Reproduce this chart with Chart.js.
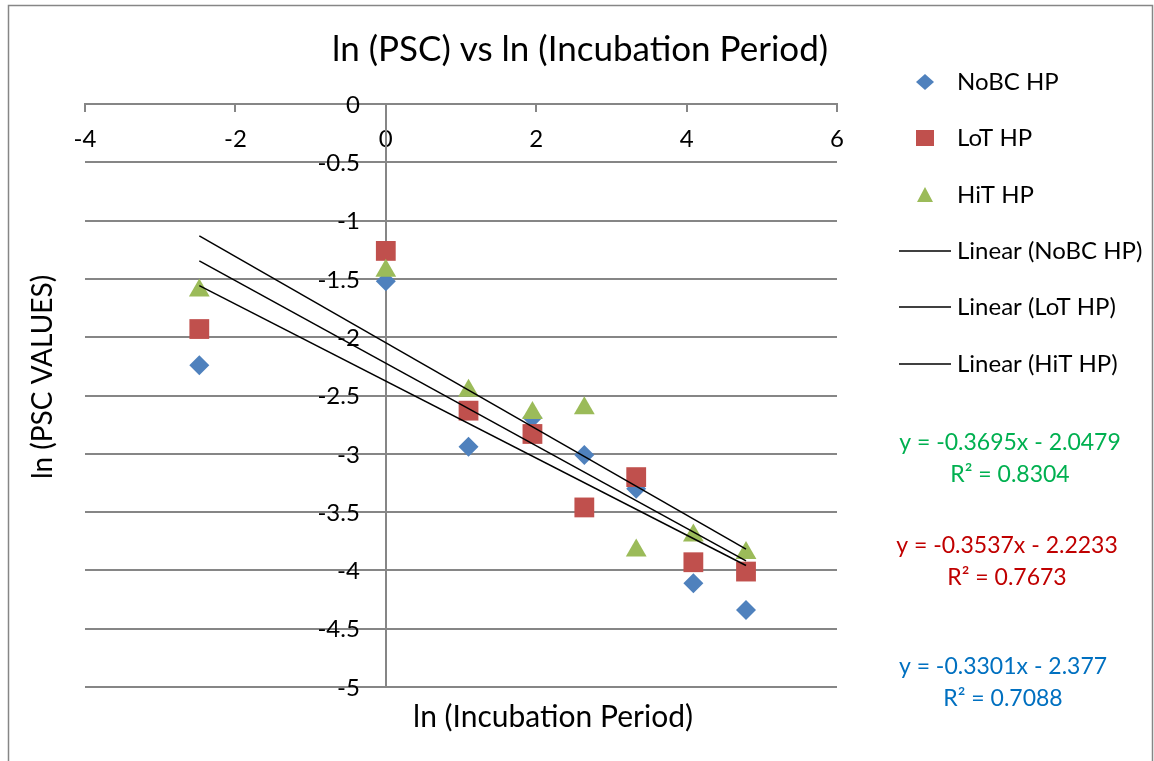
<!DOCTYPE html>
<html>
<head>
<meta charset="utf-8">
<script src="https://cdn.jsdelivr.net/npm/chart.js@4/dist/chart.umd.min.js"></script>
<style>
  html, body { margin:0; padding:0; background:#fff; }
  #wrap { width:1154px; height:761px; }
</style>
</head>
<body>
<div id="wrap"><canvas id="psc" width="1154" height="761"></canvas></div>
<script>
/* ===============================
   DATA
================================ */

const lnPeriod = [-2.48, 0, 1.10, 1.95, 2.64, 3.33, 4.09, 4.79];

const noBC = [-2.24, -1.52, -2.94, -2.69, -3.01, -3.30, -4.11, -4.34];
const loT  = [-1.93, -1.26, -2.63, -2.83, -3.46, -3.20, -3.93, -4.01];
const hiT  = [-1.60, -1.43, -2.46, -2.65, -2.61, -3.83, -3.70, -3.85];

const seriesNames = ["NoBC HP", "LoT HP", "HiT HP"];

// trendline coefficients as printed on the chart
const slopes     = [-0.3301, -0.3537, -0.3695];
const intercepts = [-2.377, -2.2233, -2.0479];
const rSquared   = ["0.7088", "0.7673", "0.8304"];

const xTicks = [-4, -2, 0, 2, 4, 6];

const FONT = "Lato, 'Open Sans', sans-serif";
const GRID = "#868686";


function points(ys){
  return lnPeriod.map((x,i)=>({x:x, y:ys[i]}));
}

function trend(k){
  const x0 = Math.min(...lnPeriod);
  const x1 = Math.max(...lnPeriod);
  return [
    {x:x0, y:slopes[k]*x0 + intercepts[k]},
    {x:x1, y:slopes[k]*x1 + intercepts[k]}
  ];
}

function eqText(k){
  const b = intercepts[k];
  return "y = " + slopes[k] + "x " + (b<0 ? "- " : "+ ") + Math.abs(b);
}


/* ===============================
   EXTRA DRAWING (titles, legend)
================================ */

const decor = {
  id:"decor",
  afterDraw(chart){
    const ctx = chart.ctx;
    ctx.save();

    // outer frame
    ctx.strokeStyle = GRID;
    ctx.lineWidth = 1.5;
    ctx.strokeRect(8.5, 5.5, 1144, 800);

    // y tick labels (left of the crossing axis)
    const ys = chart.scales.y;
    const axisX = chart.scales.x.getPixelForValue(0);
    ctx.fillStyle = "#000";
    ctx.font = "24px " + FONT;
    ctx.textAlign = "right";
    ctx.textBaseline = "middle";
    ys.ticks.forEach(t=>{
      ctx.fillText(String(+t.value.toFixed(1)), axisX - 26, ys.getPixelForValue(t.value) + 1);
    });

    ctx.textAlign = "center";
    ctx.font = "35px " + FONT;
    ctx.fillText("ln (PSC) vs ln (Incubation Period)", 580, 50);

    ctx.font = "30px " + FONT;
    ctx.fillText("ln (Incubation Period)", 553, 717);

    ctx.save();
    ctx.translate(43, 377);
    ctx.rotate(-Math.PI/2);
    ctx.font = "28px " + FONT;
    ctx.fillText("ln (PSC VALUES)", 0, 0);
    ctx.restore();

    // legend
    const ds = chart.data.datasets;
    ctx.font = "24px " + FONT;
    ctx.textAlign = "left";
    const rows = [82, 138, 195, 251, 307, 364];
    ds.slice(0,3).forEach((d,i)=>{
      drawMarker(ctx, d.pointStyle, 925, rows[i], 9, d.backgroundColor);
      ctx.fillStyle = "#000";
      ctx.fillText(d.label, 957, rows[i]);
    });
    ds.slice(3).forEach((d,i)=>{
      const y = rows[i+3];
      ctx.strokeStyle = "#000";
      ctx.lineWidth = 1.5;
      ctx.beginPath();
      ctx.moveTo(899, y);
      ctx.lineTo(951, y);
      ctx.stroke();
      ctx.fillStyle = "#000";
      ctx.fillText(d.label, 957, y);
    });

    // trendline equations
    const eqColors = ["#0070C0", "#C00000", "#00B050"];
    const eqPos = [[1003, 667], [1007, 546], [1010, 443]];
    ctx.textAlign = "center";
    ctx.font = "23px " + FONT;
    for (let k=0; k<3; k++){
      ctx.fillStyle = eqColors[k];
      ctx.fillText(eqText(k), eqPos[k][0], eqPos[k][1]);
      ctx.fillText("R\u00B2 = " + rSquared[k], eqPos[k][0], eqPos[k][1] + 32);
    }

    ctx.restore();
  }
};

function drawMarker(ctx, style, x, y, r, color){
  ctx.fillStyle = color;
  ctx.beginPath();
  if (style === "rectRot"){
    ctx.moveTo(x, y-r+1); ctx.lineTo(x+r, y); ctx.lineTo(x, y+r-1); ctx.lineTo(x-r, y);
  } else if (style === "rect"){
    ctx.rect(x-r, y-r+1, 2*r, 2*r-2);
  } else {
    ctx.moveTo(x, y-r+1); ctx.lineTo(x+r-1, y+r-2); ctx.lineTo(x-r+1, y+r-2);
  }
  ctx.closePath();
  ctx.fill();
}


/* ===============================
   CHART
================================ */

const markerColors = ["#4F81BD", "#C0504D", "#9BBB59"];
const markerStyles = ["rectRot", "rect", "triangle"];
const markerSize   = [10, 14, 12];

const datasets = [noBC, loT, hiT].map((ys,i)=>({
  type:"scatter",
  label:seriesNames[i],
  data:points(ys),
  pointStyle:markerStyles[i],
  pointRadius:markerSize[i],
  backgroundColor:markerColors[i],
  borderColor:markerColors[i],
  borderWidth:0,
  order:3-i
}));

seriesNames.forEach((name,k)=>{
  datasets.push({
    type:"line",
    label:"Linear (" + name + ")",
    data:trend(k),
    borderColor:"#000",
    borderWidth:1.5,
    pointRadius:0,
    fill:false,
    order:0
  });
});

new Chart(document.getElementById("psc"),{
  type:"scatter",
  data:{datasets:datasets},
  options:{
    responsive:false,
    animation:false,
    devicePixelRatio:1,
    layout:{padding:{left:85, right:317, top:104, bottom:74}},
    plugins:{
      legend:{display:false},
      tooltip:{enabled:false},
      title:{display:false}
    },
    scales:{
      x:{
        type:"linear",
        min:-4, max:6,
        position:{y:0},
        afterBuildTicks(axis){ axis.ticks = xTicks.map(v=>({value:v})); },
        ticks:{color:"#000", font:{family:FONT, size:24}, padding:14, maxRotation:0},
        grid:{drawOnChartArea:false, drawTicks:true, tickLength:7, color:GRID, lineWidth:2},
        border:{color:GRID, width:2}
      },
      y:{
        type:"linear",
        min:-5, max:0,
        position:{x:0},
        ticks:{stepSize:0.5, display:false},
        grid:{color:GRID, lineWidth:2, drawTicks:false},
        border:{color:GRID, width:2}
      }
    }
  },
  plugins:[decor]
});
</script>
</body>
</html>
